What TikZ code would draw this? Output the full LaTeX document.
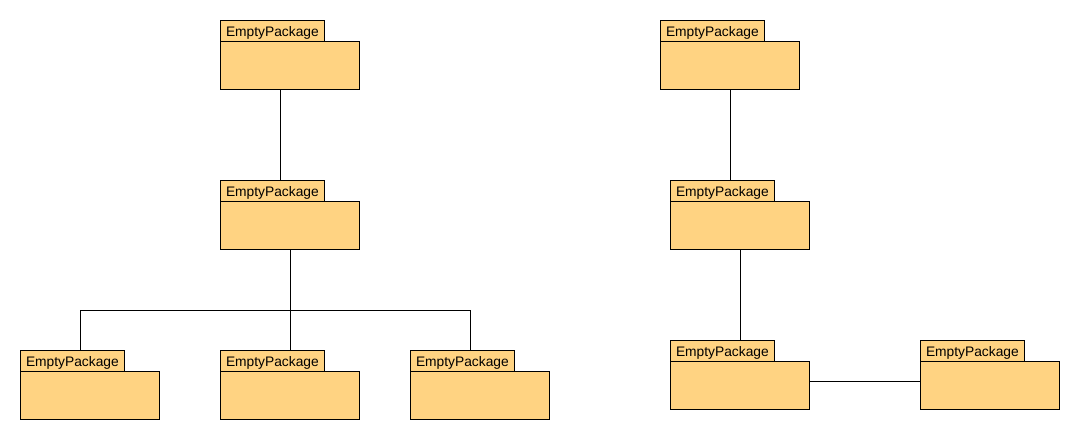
\documentclass[tikz,border=0pt]{standalone}
\usepackage{fontspec}
\setmainfont{Liberation Sans}
\definecolor{pkgfill}{RGB}{255,211,130}
\tikzset{
  pkgtab/.style={draw=black, fill=pkgfill, line width=1pt, anchor=north west,
    minimum width=104pt, minimum height=21pt, inner xsep=5.5pt, inner ysep=0pt,
    text width=93pt, text height=10pt, text depth=0pt, align=left,
    font=\fontsize{13.8}{14}\selectfont},
  pkgbody/.style={draw=black, fill=pkgfill, line width=1pt, anchor=north west,
    minimum width=139pt, minimum height=48pt, inner sep=0pt},
  conn/.style={draw=black, line width=1pt}
}
\begin{document}
\begin{tikzpicture}[x=1pt,y=-1pt]
\useasboundingbox (0,0) rectangle (1080,440);
% left tree
\node[pkgtab] (At) at (220,20) {EmptyPackage};
\node[pkgbody] (A) at (220,41) {};
\node[pkgtab] (Bt) at (220,180) {EmptyPackage};
\node[pkgbody] (B) at (220,201) {};
\node[pkgtab] (Ct) at (20,350) {EmptyPackage};
\node[pkgbody] (C) at (20,371) {};
\node[pkgtab] (Dt) at (220,350) {EmptyPackage};
\node[pkgbody] (D) at (220,371) {};
\node[pkgtab] (Et) at (410,350) {EmptyPackage};
\node[pkgbody] (E) at (410,371) {};
% right tree
\node[pkgtab] (Ft) at (660,20) {EmptyPackage};
\node[pkgbody] (F) at (660,41) {};
\node[pkgtab] (Gt) at (670,180) {EmptyPackage};
\node[pkgbody] (G) at (670,201) {};
\node[pkgtab] (Ht) at (670,340) {EmptyPackage};
\node[pkgbody] (H) at (670,361) {};
\node[pkgtab] (It) at (920,340) {EmptyPackage};
\node[pkgbody] (I) at (920,361) {};
% connectors
\draw[conn] ([xshift=60pt]A.south west) -- ([xshift=60pt]Bt.north west);
\draw[conn] ([xshift=70pt]B.south west) -- ([xshift=70pt]Dt.north west);
\draw[conn] ([xshift=60pt]Ct.north west) -- ++(0,-40) -| ([xshift=60pt]Et.north west);
\draw[conn] ([xshift=70pt]F.south west) -- ([xshift=60pt]Gt.north west);
\draw[conn] ([xshift=70pt]G.south west) -- ([xshift=70pt]Ht.north west);
\draw[conn] ([yshift=4pt]H.east) -- ([yshift=4pt]I.west);
\end{tikzpicture}
\end{document}
